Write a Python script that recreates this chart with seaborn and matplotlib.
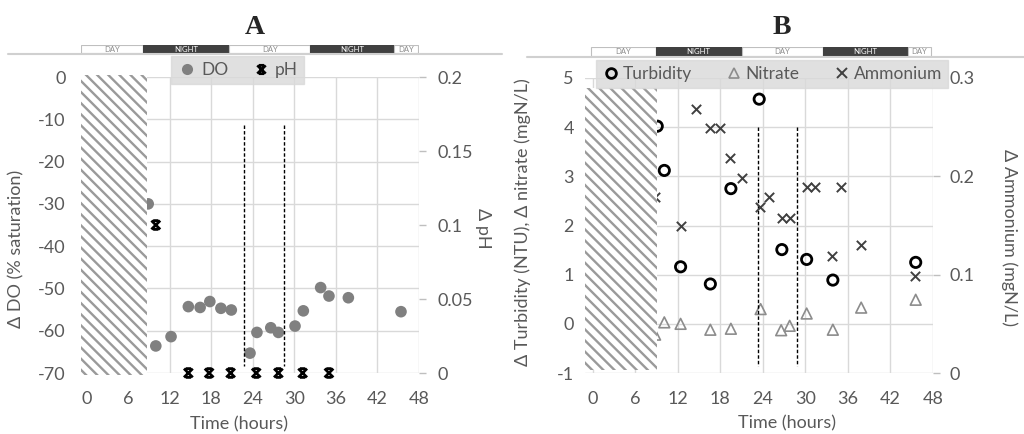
import matplotlib.pyplot as plt
import matplotlib.transforms as mtransforms
from matplotlib.lines import Line2D
from matplotlib.patches import Rectangle
from matplotlib.path import Path
import pandas as pd
import seaborn as sns

# ---- panel A data ----
do_hours = [8.9, 10.0, 12.2, 14.7, 16.4, 17.8, 19.4, 20.9, 23.6, 24.6, 26.6, 27.7,
            30.1, 31.3, 33.8, 35.0, 37.8, 45.4]
do_values = [-30, -63.6, -61.4, -54.3, -54.5, -53.1, -54.7, -55.1, -65.3, -60.4, -59.3,
             -60.4, -58.9, -55.3, -49.8, -51.8, -52.2, -55.5]
ph_hours = [10.0, 14.7, 17.7, 20.8, 24.5, 27.7, 31.2, 35.0]
ph_values = [0.1, 0, 0, 0, 0, 0, 0, 0]

# ---- panel B data ----
turb_hours = [9.1, 10.1, 12.4, 16.6, 19.5, 23.5, 26.7, 30.2, 33.9, 45.6]
turb_values = [4.02, 3.12, 1.16, 0.81, 2.75, 4.57, 1.51, 1.31, 0.89, 1.25]
nitrate_hours = [8.8, 10.1, 12.4, 16.6, 19.5, 23.7, 26.6, 27.8, 30.2, 33.9, 37.9, 45.6]
nitrate_values = [-0.22, 0.03, 0.0, -0.12, -0.10, 0.30, -0.13, -0.04, 0.21, -0.12, 0.33, 0.49]
amm_hours = [8.8, 12.4, 14.6, 16.5, 17.9, 19.4, 21.0, 23.6, 24.9, 26.7, 27.8, 30.2,
             31.4, 33.8, 35.1, 37.9, 45.5]
amm_values = [0.179, 0.149, 0.268, 0.249, 0.249, 0.219, 0.198, 0.169, 0.179, 0.158,
              0.158, 0.189, 0.189, 0.119, 0.189, 0.130, 0.099]

x_ticks = [0, 6, 12, 18, 24, 30, 36, 42, 48]
a_left_ticks = [-70, -60, -50, -40, -30, -20, -10, 0]
a_right_ticks = [0, 0.05, 0.1, 0.15, 0.2]
a_right_labels = ["0", "0.05", "0.1", "0.15", "0.2"]
b_left_ticks = [-1, 0, 1, 2, 3, 4, 5]
b_right_ticks = [0, 0.1, 0.2, 0.3]
b_right_labels = ["0", "0.1", "0.2", "0.3"]

dn_labels = ["DAY", "NIGHT", "DAY", "NIGHT", "DAY"]
dn_edges_a = [-0.8, 8.2, 20.6, 32.3, 44.4, 47.8]
dn_edges_b = [-0.2, 8.9, 21.0, 32.5, 44.5, 47.8]
dashed_a = [22.8, 28.5]
dashed_b = [23.3, 28.9]

sns.set_style("white")
plt.rcParams["font.family"] = ["Lato", "DejaVu Sans"]
plt.rcParams["hatch.linewidth"] = 1.7
TXT = "#595959"
GRID = "#d9d9d9"
FS = 13

# X with caps (Excel-like star marker)
star = Path([(-1, -1), (1, 1), (-1, 1), (1, -1), (-0.6, 1), (0.6, 1), (-0.6, -1), (0.6, -1)],
            [Path.MOVETO, Path.LINETO] * 4)

fig = plt.figure(figsize=(10.24, 4.34), dpi=100)


def setup(rect, xlim, ylim, ylim2, lticks, llabels, rticks, rlabels, lpad, rpad):
    ax = fig.add_axes(rect)
    ax2 = ax.twinx()
    ax.set_xlim(*xlim)
    ax.set_ylim(*ylim)
    ax2.set_ylim(*ylim2)
    ax.set_xticks(x_ticks)
    ax.set_xticklabels([str(t) for t in x_ticks])
    ax.set_yticks(lticks)
    ax.set_yticklabels(llabels)
    ax2.set_yticks(rticks)
    ax2.set_yticklabels(rlabels)
    ax.grid(True, color=GRID, lw=1)
    ax.set_axisbelow(True)
    for a in (ax, ax2):
        for s in a.spines.values():
            s.set_visible(False)
    ax.tick_params(axis="both", length=0, labelsize=FS, labelcolor=TXT)
    ax.tick_params(axis="x", pad=13)
    ax.tick_params(axis="y", pad=lpad)
    ax2.tick_params(axis="y", length=5, color="#bfbfbf", width=1, labelsize=FS,
                    labelcolor=TXT, pad=rpad)
    ax.set_xlabel("Time (hours)", fontsize=FS, color=TXT)
    return ax, ax2


def hatch(ax2, x0, x1, y0, y1):
    tr = mtransforms.blended_transform_factory(ax2.transData, ax2.transAxes)
    ax2.add_patch(Rectangle((x0, y0), x1 - x0, y1 - y0, transform=tr, facecolor="white",
                            edgecolor="#9a9a9a", hatch="\\\\\\", lw=0, zorder=10,
                            clip_on=False))


def daynight(rect, xlim, edges, line_y, line_x):
    st = fig.add_axes(rect)
    st.set_xlim(*xlim)
    st.set_ylim(0, 1)
    st.axis("off")
    for i, lab in enumerate(dn_labels):
        night = lab == "NIGHT"
        st.add_patch(Rectangle((edges[i], 0), edges[i + 1] - edges[i], 1,
                               facecolor="#404040" if night else "white",
                               edgecolor="#404040" if night else "#bfbfbf", lw=0.8))
        st.text((edges[i] + edges[i + 1]) / 2, 0.45, lab, ha="center", va="center",
                fontsize=5.5, color="white" if night else "#8c8c8c")
    fig.add_artist(Line2D(line_x, [line_y, line_y], transform=fig.transFigure,
                          color="#d0d0d0", lw=1.5))


# ---------------- Panel A ----------------
axA, axA2 = setup([81 / 1024, 1 - 373 / 434, 338 / 1024, 296 / 434], (-0.8, 48), (-70, 0),
                  (0, 0.2), a_left_ticks, [str(t) for t in a_left_ticks], a_right_ticks,
                  a_right_labels, 11, 8)
df_do = pd.DataFrame({"hours": do_hours, "value": do_values})
df_ph = pd.DataFrame({"hours": ph_hours, "value": ph_values})
sns.scatterplot(data=df_do, x="hours", y="value", ax=axA, color="#808080", s=70,
                edgecolor="none", zorder=3, legend=False)
sns.scatterplot(data=df_ph, x="hours", y="value", ax=axA2, marker=star, s=40,
                facecolor="none", edgecolor="black", linewidth=2, zorder=3, legend=False,
                clip_on=False)
for xv in dashed_a:
    axA.plot([xv, xv], [-11.3, -68.3], color="black", lw=1, ls=(0, (2.5, 1.5)), zorder=4)
hatch(axA2, -0.8, 8.8, -0.007, 1.007)
axA.set_ylabel("\u0394 DO (% saturation)", fontsize=FS, color=TXT)
axA.yaxis.set_label_coords(-0.166, 0.42)
axA2.set_ylabel("\u0394 pH", fontsize=FS, color=TXT, rotation=-90, va="center")
axA2.yaxis.set_label_coords(1.19, 0.49)
axA.xaxis.set_label_coords(0.467, -0.145)
fig.text(255 / 1024, 1 - 34 / 434, "A", ha="center", va="baseline", fontsize=20,
         fontweight="bold", family="Liberation Serif")
daynight([81 / 1024, 1 - 53 / 434, 338 / 1024, 8 / 434], (-0.8, 48), dn_edges_a,
         1 - 54 / 434, [8 / 1024, 502 / 1024])
hA = [Line2D([], [], marker="o", ls="none", color="#808080", markersize=8, mec="none"),
      Line2D([], [], marker=star, ls="none", color="black", mfc="none", mew=2, markersize=6)]
legA = axA2.legend(hA, ["DO", "pH"], loc="center", bbox_to_anchor=(237.5 / 1024, 1 - 70 / 434),
                   bbox_transform=fig.transFigure, ncol=2, frameon=True, fancybox=False,
                   fontsize=12.5, handletextpad=0.2, columnspacing=1.3, handlelength=1.2,
                   borderpad=0.35)
legA.get_frame().set_facecolor("#d9d9d9")
legA.get_frame().set_edgecolor("#d9d9d9")
legA.set_zorder(20)
for t in legA.get_texts():
    t.set_color(TXT)

# ---------------- Panel B ----------------
axB, axB2 = setup([585 / 1024, 1 - 373 / 434, 347.7 / 1024, 295 / 434], (-1.1, 48), (-1, 5),
                  (0, 0.3), b_left_ticks, [str(t) for t in b_left_ticks], b_right_ticks,
                  b_right_labels, 8, 7)
df_turb = pd.DataFrame({"hours": turb_hours, "value": turb_values})
df_nit = pd.DataFrame({"hours": nitrate_hours, "value": nitrate_values})
df_amm = pd.DataFrame({"hours": amm_hours, "value": amm_values})
sns.scatterplot(data=df_turb, x="hours", y="value", ax=axB, marker="o", s=55,
                facecolor="none", edgecolor="black", linewidth=2, zorder=3, legend=False)
sns.scatterplot(data=df_nit, x="hours", y="value", ax=axB, marker="^", s=60,
                facecolor="none", edgecolor="#8c8c8c", linewidth=1.2, zorder=3, legend=False)
sns.scatterplot(data=df_amm, x="hours", y="value", ax=axB2, marker="x", s=45,
                color="#404040", linewidth=1.4, zorder=3, legend=False)
for xv in dashed_b:
    axB.plot([xv, xv], [4.0, -0.85], color="black", lw=1, ls=(0, (2.5, 1.5)), zorder=4)
hatch(axB2, -1.1, 9.1, 0.0102, 0.966)
axB.set_ylabel("\u0394 Turbidity (NTU), \u0394 nitrate (mgN/L)", fontsize=FS, color=TXT)
axB.yaxis.set_label_coords(-0.155, 0.51)
axB2.set_ylabel("\u0394 Ammonium (mgN/L)", fontsize=FS, color=TXT, rotation=-90,
                va="center")
axB2.yaxis.set_label_coords(1.219, 0.46)
axB.xaxis.set_label_coords(0.581, -0.142)
fig.text(782 / 1024, 1 - 34 / 434, "B", ha="center", va="baseline", fontsize=20,
         fontweight="bold", family="Liberation Serif")
daynight([585 / 1024, 1 - 55.7 / 434, 347.7 / 1024, 9 / 434], (-1.1, 48), dn_edges_b,
         1 - 57 / 434, [527 / 1024, 1.0])
hB = [Line2D([], [], marker="o", ls="none", mfc="none", mec="black", mew=2, markersize=7),
      Line2D([], [], marker="^", ls="none", mfc="none", mec="#8c8c8c", mew=1.2, markersize=7),
      Line2D([], [], marker="x", ls="none", color="#404040", mew=1.4, markersize=7)]
legB = axB2.legend(hB, ["Turbidity", "Nitrate", "Ammonium"], loc="center",
                   bbox_to_anchor=(772 / 1024, 1 - 74 / 434), bbox_transform=fig.transFigure,
                   ncol=3, frameon=True, fancybox=False, fontsize=12.5, handletextpad=0.2,
                   columnspacing=1.9, handlelength=1.0, borderpad=0.35)
legB.get_frame().set_facecolor("#d9d9d9")
legB.get_frame().set_edgecolor("#d9d9d9")
legB.set_zorder(20)
for t in legB.get_texts():
    t.set_color(TXT)

fig.savefig("out.png", dpi=100)
